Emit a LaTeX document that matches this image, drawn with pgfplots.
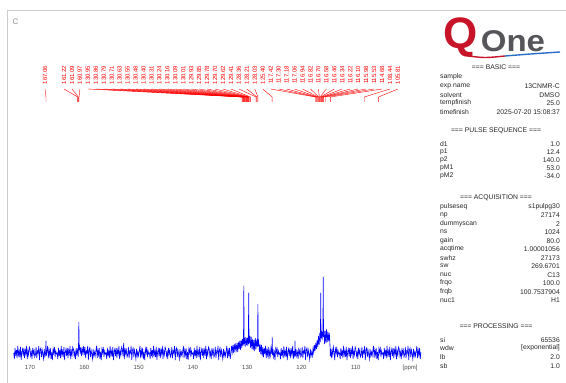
\documentclass[border=0pt]{standalone}
\usepackage{pgfplots}
\pgfplotsset{compat=1.18}
\usepackage{fontspec}
\setmainfont{Liberation Sans}
\definecolor{qred}{RGB}{200,20,40}
\definecolor{qgrey}{RGB}{85,85,90}
\definecolor{qblue}{RGB}{40,110,200}
\definecolor{pk}{RGB}{255,0,0}
\definecolor{sp}{RGB}{0,0,255}
\begin{document}
\begin{tikzpicture}[x=1pt,y=1pt]
\path[use as bounding box] (0,0) rectangle (566,383);
% frame
\draw[black!20, line width=0.6pt] (7,0) -- (7,373) -- (566,373);
\node[text=black!45, font=\fontsize{8}{8}\selectfont, anchor=west] at (9,361) {C};
\begin{axis}[
  at={(13pt,21pt)}, anchor=south west, scale only axis,
  width=409pt, height=352pt,
  xmin=97.81, xmax=173.13, ymin=0, ymax=352, x dir=reverse,
  axis x line*=bottom, axis y line=none,
  x axis line style={draw=none},
  xtick={100,110,120,130,140,150,160,170},
  xticklabels={{[ppm]},110,120,130,140,150,160,170},
  major tick length=0pt,
  xticklabel style={font=\fontsize{6}{6}\selectfont, text=black!70, inner sep=1pt, yshift=-2pt},
  clip=false]
\addplot[sp, line width=0.6pt] table[row sep=\\] {x y\\
173.000 9\\ 172.875 3\\ 172.750 14\\ 172.625 6\\ 172.500 12\\ 172.375 4\\ 172.250 16\\ 172.125 7\\
172.000 11\\ 171.875 5\\ 171.750 15\\ 171.625 2\\ 171.500 10\\ 171.375 13\\ 171.250 6\\ 171.125 14\\
171.000 4\\ 170.875 12\\ 170.750 8\\ 170.625 16\\ 170.500 3\\ 170.375 11\\ 170.250 7\\ 170.125 15\\
170.000 13\\ 169.875 6\\ 169.750 10\\ 169.625 3\\ 169.500 14\\ 169.375 8\\ 169.250 12\\ 169.125 5\\
169.000 7\\ 168.875 15\\ 168.750 4\\ 168.625 11\\ 168.500 9\\ 168.375 16\\ 168.250 2\\ 168.125 12\\
168.000 14\\ 167.875 5\\ 167.750 12\\ 167.625 8\\ 167.500 3\\ 167.375 13\\ 167.250 6\\ 167.125 10\\ 167.060 21\\
167.000 6\\ 166.875 11\\ 166.750 16\\ 166.625 4\\ 166.500 12\\ 166.375 7\\ 166.250 14\\ 166.125 3\\
166.000 10\\ 165.875 2\\ 165.750 13\\ 165.625 9\\ 165.500 15\\ 165.375 5\\ 165.250 11\\ 165.125 8\\
165.000 9\\ 164.875 3\\ 164.750 14\\ 164.625 6\\ 164.500 12\\ 164.375 4\\ 164.250 16\\ 164.125 7\\
164.000 11\\ 163.875 5\\ 163.750 15\\ 163.625 2\\ 163.500 10\\ 163.375 13\\ 163.250 6\\ 163.125 14\\
163.000 4\\ 162.875 12\\ 162.750 8\\ 162.625 16\\ 162.500 3\\ 162.375 11\\ 162.250 7\\ 162.125 15\\
162.000 13\\ 161.875 6\\ 161.750 10\\ 161.625 3\\ 161.500 14\\ 161.375 8\\ 161.250 12\\ 161.125 5\\ 161.060 18\\
161.000 40\\ 160.940 12\\ 160.875 17\\ 160.750 8\\ 160.625 15\\ 160.500 6\\ 160.375 13\\ 160.250 9\\ 160.125 16\\
160.000 7\\ 159.875 15\\ 159.750 4\\ 159.625 11\\ 159.500 9\\ 159.375 16\\ 159.250 2\\ 159.125 12\\
159.000 14\\ 158.875 5\\ 158.750 12\\ 158.625 8\\ 158.500 3\\ 158.375 13\\ 158.250 6\\ 158.125 10\\
158.000 6\\ 157.875 11\\ 157.750 16\\ 157.625 4\\ 157.500 12\\ 157.375 7\\ 157.250 14\\ 157.125 3\\
157.000 10\\ 156.875 2\\ 156.750 13\\ 156.625 9\\ 156.500 15\\ 156.375 5\\ 156.250 11\\ 156.125 8\\
156.000 9\\ 155.875 3\\ 155.750 14\\ 155.625 6\\ 155.500 12\\ 155.375 4\\ 155.250 16\\ 155.125 7\\
155.000 11\\ 154.875 5\\ 154.750 15\\ 154.625 2\\ 154.500 10\\ 154.375 13\\ 154.250 6\\ 154.125 14\\
154.000 4\\ 153.875 12\\ 153.750 8\\ 153.625 16\\ 153.500 3\\ 153.375 11\\ 153.250 7\\ 153.125 15\\
153.000 13\\ 152.875 6\\ 152.750 19\\ 152.625 3\\ 152.500 14\\ 152.375 8\\ 152.250 12\\ 152.125 5\\
152.000 7\\ 151.875 15\\ 151.750 4\\ 151.625 11\\ 151.500 9\\ 151.375 16\\ 151.250 2\\ 151.125 12\\
151.000 14\\ 150.875 5\\ 150.750 12\\ 150.625 8\\ 150.500 3\\ 150.375 13\\ 150.250 6\\ 150.125 10\\
150.000 6\\ 149.875 11\\ 149.750 16\\ 149.625 4\\ 149.500 12\\ 149.375 7\\ 149.250 14\\ 149.125 3\\
149.000 10\\ 148.875 2\\ 148.750 13\\ 148.625 9\\ 148.500 15\\ 148.375 5\\ 148.250 11\\ 148.125 8\\
148.000 9\\ 147.875 3\\ 147.750 14\\ 147.625 6\\ 147.500 12\\ 147.375 4\\ 147.250 16\\ 147.125 7\\
147.000 11\\ 146.875 5\\ 146.750 15\\ 146.625 2\\ 146.500 10\\ 146.375 13\\ 146.250 6\\ 146.125 14\\
146.000 4\\ 145.875 12\\ 145.750 8\\ 145.625 16\\ 145.500 3\\ 145.375 11\\ 145.250 7\\ 145.125 15\\
145.000 13\\ 144.875 6\\ 144.750 10\\ 144.625 3\\ 144.500 14\\ 144.375 8\\ 144.250 12\\ 144.125 5\\
144.000 7\\ 143.875 15\\ 143.750 4\\ 143.625 11\\ 143.500 9\\ 143.375 16\\ 143.250 2\\ 143.125 12\\
143.000 14\\ 142.875 5\\ 142.750 12\\ 142.625 8\\ 142.500 3\\ 142.375 13\\ 142.250 6\\ 142.125 10\\
142.000 6\\ 141.875 11\\ 141.750 16\\ 141.625 4\\ 141.500 12\\ 141.375 7\\ 141.250 14\\ 141.125 3\\
141.000 10\\ 140.875 2\\ 140.750 13\\ 140.625 9\\ 140.500 15\\ 140.375 5\\ 140.250 11\\ 140.125 8\\
140.000 9\\ 139.875 3\\ 139.750 14\\ 139.625 6\\ 139.500 12\\ 139.375 4\\ 139.250 16\\ 139.125 7\\
139.000 11\\ 138.875 5\\ 138.750 15\\ 138.625 2\\ 138.500 10\\ 138.375 13\\ 138.250 6\\ 138.125 14\\
138.000 4\\ 137.875 12\\ 137.750 8\\ 137.625 16\\ 137.500 3\\ 137.375 11\\ 137.250 7\\ 137.125 15\\
137.000 13\\ 136.875 6\\ 136.750 10\\ 136.625 3\\ 136.500 14\\ 136.375 8\\ 136.250 12\\ 136.125 5\\
136.000 7\\ 135.875 15\\ 135.750 4\\ 135.625 11\\ 135.500 9\\ 135.375 16\\ 135.250 2\\ 135.125 12\\
135.000 14\\ 134.875 5\\ 134.750 12\\ 134.625 8\\ 134.500 3\\ 134.375 13\\ 134.250 6\\ 134.125 10\\
134.000 6\\ 133.875 11\\ 133.750 16\\ 133.625 4\\ 133.500 12\\ 133.375 7\\ 133.250 14\\ 133.125 3\\
133.000 8\\ 132.875 16\\ 132.750 10\\ 132.625 17\\ 132.500 9\\ 132.375 18\\ 132.250 11\\ 132.125 17\\
132.000 12\\ 131.875 19\\ 131.750 10\\ 131.625 20\\ 131.500 13\\ 131.375 21\\ 131.250 12\\ 131.125 22\\
131.000 14\\ 130.875 23\\ 130.750 16\\ 130.680 26\\ 130.620 76\\ 130.560 18\\ 130.500 24\\ 130.375 15\\ 130.250 25\\ 130.125 17\\
130.000 24\\ 129.875 16\\ 129.780 27\\ 129.720 69\\ 129.660 18\\ 129.500 26\\ 129.375 14\\ 129.250 25\\ 129.125 13\\
129.000 23\\ 128.875 12\\ 128.750 22\\ 128.625 11\\ 128.500 24\\ 128.375 13\\ 128.250 22\\ 128.125 15\\ 128.080 27\\ 128.030 58\\ 127.980 16\\
127.875 20\\ 127.750 10\\ 127.625 18\\ 127.500 8\\ 127.375 17\\ 127.250 6\\ 127.125 15\\
127.000 5\\ 126.875 14\\ 126.750 8\\ 126.625 16\\ 126.500 4\\ 126.375 12\\ 126.250 7\\ 126.125 15\\
126.000 3\\ 125.875 11\\ 125.750 6\\ 125.625 14\\ 125.500 9\\ 125.450 10\\ 125.400 25\\ 125.350 7\\ 125.250 13\\ 125.125 5\\
125.000 10\\ 124.875 2\\ 124.750 13\\ 124.625 9\\ 124.500 15\\ 124.375 5\\ 124.250 11\\ 124.125 8\\
124.000 9\\ 123.875 3\\ 123.750 14\\ 123.625 6\\ 123.500 12\\ 123.375 4\\ 123.250 16\\ 123.125 7\\
123.000 11\\ 122.875 5\\ 122.750 15\\ 122.625 2\\ 122.500 10\\ 122.375 13\\ 122.250 6\\ 122.125 14\\
122.000 4\\ 121.875 12\\ 121.750 8\\ 121.625 16\\ 121.500 3\\ 121.375 11\\ 121.250 5\\ 121.200 21\\ 121.125 6\\
121.000 13\\ 120.875 6\\ 120.750 10\\ 120.625 3\\ 120.500 14\\ 120.375 8\\ 120.250 12\\ 120.125 5\\
120.000 7\\ 119.875 15\\ 119.750 4\\ 119.625 11\\ 119.500 9\\ 119.375 16\\ 119.250 2\\ 119.125 12\\
119.000 14\\ 118.875 5\\ 118.750 12\\ 118.625 8\\ 118.500 3\\ 118.375 13\\ 118.250 6\\ 118.125 10\\
118.000 6\\ 117.875 14\\ 117.750 9\\ 117.625 17\\ 117.500 11\\ 117.375 19\\ 117.250 13\\ 117.125 22\\
117.000 15\\ 116.875 26\\ 116.750 17\\ 116.625 29\\ 116.520 20\\ 116.460 69\\ 116.400 24\\ 116.300 31\\ 116.200 22\\ 116.125 30\\ 116.060 26\\ 116.000 85\\ 115.940 25\\
115.875 32\\ 115.750 18\\ 115.625 31\\ 115.500 19\\ 115.375 33\\ 115.250 20\\ 115.125 30\\ 115.000 21\\ 114.875 29\\ 114.750 17\\ 114.700 6\\ 114.625 13\\ 114.500 4\\ 114.375 12\\ 114.250 7\\ 114.125 15\\
114.000 10\\ 113.875 2\\ 113.750 13\\ 113.625 9\\ 113.500 15\\ 113.375 5\\ 113.250 11\\ 113.125 8\\
113.000 9\\ 112.875 3\\ 112.750 14\\ 112.625 6\\ 112.500 12\\ 112.375 4\\ 112.250 16\\ 112.125 7\\
112.000 11\\ 111.875 5\\ 111.750 15\\ 111.625 2\\ 111.500 10\\ 111.375 13\\ 111.250 6\\ 111.125 14\\
111.000 4\\ 110.875 12\\ 110.750 8\\ 110.625 16\\ 110.500 3\\ 110.375 11\\ 110.250 7\\ 110.125 15\\
110.000 13\\ 109.875 6\\ 109.750 10\\ 109.625 3\\ 109.500 14\\ 109.375 8\\ 109.250 12\\ 109.125 5\\
109.000 7\\ 108.875 15\\ 108.750 4\\ 108.625 11\\ 108.500 9\\ 108.375 16\\ 108.250 2\\ 108.125 12\\
108.000 14\\ 107.875 5\\ 107.750 12\\ 107.625 8\\ 107.500 3\\ 107.375 13\\ 107.250 6\\ 107.125 10\\
107.000 6\\ 106.875 11\\ 106.750 16\\ 106.625 4\\ 106.500 12\\ 106.375 7\\ 106.250 14\\ 106.125 3\\
106.000 10\\ 105.875 2\\ 105.750 13\\ 105.625 9\\ 105.500 15\\ 105.375 5\\ 105.250 11\\ 105.125 8\\
105.000 9\\ 104.875 3\\ 104.750 14\\ 104.625 6\\ 104.500 12\\ 104.375 4\\ 104.250 16\\ 104.125 7\\
104.000 11\\ 103.875 5\\ 103.750 15\\ 103.625 2\\ 103.500 10\\ 103.375 13\\ 103.250 6\\ 103.125 14\\
103.000 4\\ 102.875 12\\ 102.750 8\\ 102.625 16\\ 102.500 3\\ 102.375 11\\ 102.250 7\\ 102.125 15\\
102.000 13\\ 101.875 6\\ 101.750 10\\ 101.625 3\\ 101.500 14\\ 101.375 8\\ 101.250 12\\ 101.125 5\\
101.000 7\\ 100.875 15\\ 100.750 4\\ 100.625 11\\ 100.500 9\\ 100.375 16\\ 100.250 2\\ 100.125 12\\
100.000 14\\ 99.875 5\\ 99.750 12\\ 99.625 8\\ 99.500 3\\ 99.375 13\\ 99.250 6\\ 99.125 10\\
99.000 6\\ 98.875 11\\ 98.750 16\\ 98.625 4\\ 98.500 12\\ 98.375 7\\ 98.250 14\\ 98.125 3\\
98.000 10\\
};
\end{axis}
% peak labels
\foreach \lx/\ppm in {45/167.06}{
  \pgfmathsetmacro\px{30+(170-\ppm)*5.43}
  \node[rotate=90, text=pk, font=\fontsize{6}{6}\selectfont, inner sep=0pt] at (\lx,308) {\ppm};
  \draw[pk, line width=0.4pt] (\lx,294) -- (\px,286) -- (\px,281);
}
\foreach \ppm [count=\i] in {161.22,161.09,160.97,130.95,130.86,130.79,130.71,130.63,130.55,130.48,130.40,130.31,130.24,130.16,130.09,130.01,129.93,129.85,129.78,129.70,129.62,129.41,128.36,128.21,128.03,125.40,117.42,117.30,117.18,117.06,116.94,116.82,116.70,116.58,116.46,116.34,116.22,116.10,115.98,115.53,114.68,108.44,105.81}{
  \pgfmathsetmacro\lx{64+(\i-1)*7.95}
  \pgfmathsetmacro\px{30+(170-\ppm)*5.43}
  \node[rotate=90, text=pk, font=\fontsize{6}{6}\selectfont, inner sep=0pt] at (\lx,308) {\ppm};
  \draw[pk, line width=0.4pt] (\lx,294) -- (\px,286) -- (\px,281);
}
% logo
\node[text=qred, font=\fontsize{44}{44}\selectfont\bfseries, inner sep=0pt] at (461,346) {Q};
\node[text=qgrey, font=\fontsize{30}{30}\selectfont\bfseries, inner sep=0pt, xscale=1.1] at (513,342) {One};
\draw[qred, line width=1.4pt] (468,327) .. controls (485,325) .. (505,327);
\draw[qblue, line width=1.4pt] (505,327) .. controls (530,329) .. (560,331);
% info panel
\begin{scope}[every node/.style={font=\fontsize{6.8}{7}\selectfont, inner sep=0pt, text=black!85}]
\node at (496,316) {=== BASIC ===};
\node[anchor=west] at (440,306) {sample};
\node[anchor=west] at (440,297) {exp name}; \node[anchor=east] at (560,297) {13CNMR-C};
\node[anchor=west] at (440,288) {solvent}; \node[anchor=east] at (560,288) {DMSO};
\node[anchor=west] at (440,280) {tempfinish}; \node[anchor=east] at (560,280) {25.0};
\node[anchor=west] at (440,271) {timefinish}; \node[anchor=east] at (560,271) {2025-07-20 15:08:37};
\node at (496,252) {=== PULSE SEQUENCE ===};
\node[anchor=west] at (440,239) {d1}; \node[anchor=east] at (560,239) {1.0};
\node[anchor=west] at (440,231) {p1}; \node[anchor=east] at (560,231) {12.4};
\node[anchor=west] at (440,223) {p2}; \node[anchor=east] at (560,223) {140.0};
\node[anchor=west] at (440,215) {pM1}; \node[anchor=east] at (560,215) {53.0};
\node[anchor=west] at (440,207) {pM2}; \node[anchor=east] at (560,207) {-34.0};
\node at (496,185) {=== ACQUISITION ===};
\node[anchor=west] at (440,176) {pulseseq}; \node[anchor=east] at (560,176) {s1pulpg30};
\node[anchor=west] at (440,168) {np}; \node[anchor=east] at (560,168) {27174};
\node[anchor=west] at (440,159) {dummyscan}; \node[anchor=east] at (560,159) {2};
\node[anchor=west] at (440,151) {ns}; \node[anchor=east] at (560,151) {1024};
\node[anchor=west] at (440,142) {gain}; \node[anchor=east] at (560,142) {80.0};
\node[anchor=west] at (440,134) {acqtime}; \node[anchor=east] at (560,134) {1.00001056};
\node[anchor=west] at (440,125) {swhz}; \node[anchor=east] at (560,125) {27173};
\node[anchor=west] at (440,117) {sw}; \node[anchor=east] at (560,117) {269.6701};
\node[anchor=west] at (440,108) {nuc}; \node[anchor=east] at (560,108) {C13};
\node[anchor=west] at (440,100) {frqo}; \node[anchor=east] at (560,100) {100.0};
\node[anchor=west] at (440,91) {frqb}; \node[anchor=east] at (560,91) {100.7537904};
\node[anchor=west] at (440,83) {nuc1}; \node[anchor=east] at (560,83) {H1};
\node at (496,57) {=== PROCESSING ===};
\node[anchor=west] at (440,43) {si}; \node[anchor=east] at (560,43) {65536};
\node[anchor=west] at (440,35) {wdw}; \node[anchor=east] at (560,35) {[exponential]};
\node[anchor=west] at (440,26) {lb}; \node[anchor=east] at (560,26) {2.0};
\node[anchor=west] at (440,17) {sb}; \node[anchor=east] at (560,17) {1.0};
\end{scope}
\end{tikzpicture}
\end{document}
